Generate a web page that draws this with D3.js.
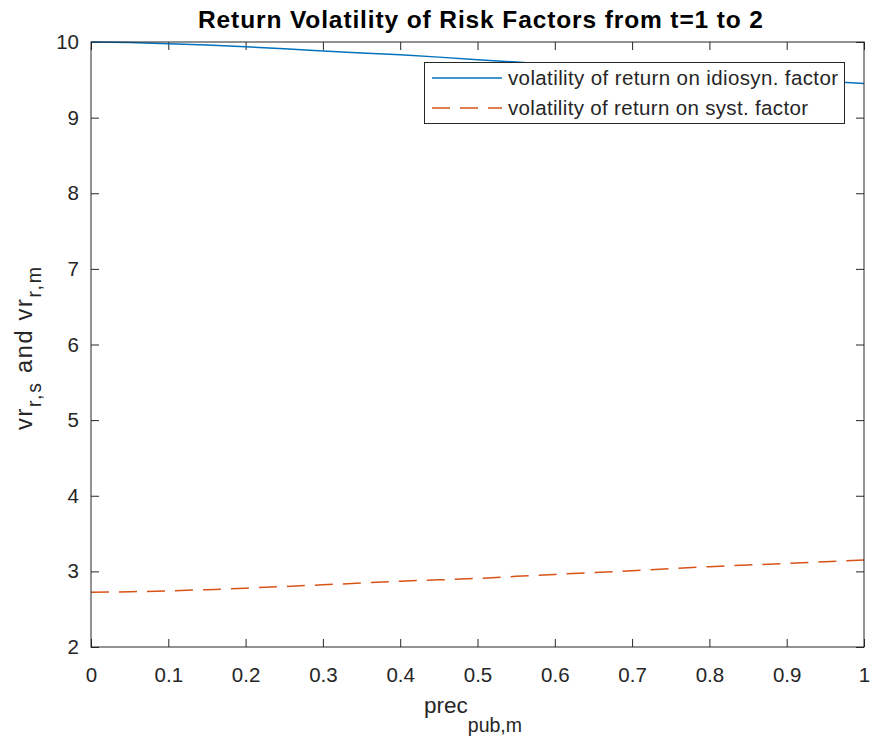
<!DOCTYPE html>
<html><head><meta charset="utf-8">
<script src="https://cdn.jsdelivr.net/npm/d3@7"></script>
<style>body{margin:0;background:#fff}svg{display:block}text{font-family:"Liberation Sans",Arial,Helvetica,sans-serif}</style>
</head><body>
<script>
const xs = [0,0.05,0.1,0.15,0.2,0.25,0.3,0.35,0.4,0.45,0.5,0.55,0.6,0.65,0.7,0.75,0.8,0.85,0.9,0.95,1];
const idioVol = [10,9.994,9.978,9.96,9.938,9.91,9.882,9.855,9.83,9.80,9.765,9.735,9.70,9.67,9.64,9.605,9.575,9.545,9.51,9.48,9.45];
const systVol = [2.725,2.73,2.742,2.758,2.778,2.80,2.822,2.846,2.87,2.888,2.907,2.934,2.96,2.985,3.008,3.035,3.062,3.084,3.105,3.128,3.15];
const xTicks = [0,0.1,0.2,0.3,0.4,0.5,0.6,0.7,0.8,0.9,1];
const yTicks = [2,3,4,5,6,7,8,9,10];
const legendLabels = ["volatility of return on idiosyn. factor","volatility of return on syst. factor"];
const titleText = "Return Volatility of Risk Factors from t=1 to 2";

const W=873,H=738, L=91,R=864,T=42,B=647;
const ink="#262626";
const svg=d3.select("body").append("svg").attr("width",W).attr("height",H);
const x=d3.scaleLinear().domain([0,1]).range([L,R]);
const y=d3.scaleLinear().domain([2,10]).range([B,T]);

function styleAxis(g){g.select(".domain").remove();g.selectAll("line").attr("stroke",ink);g.selectAll("text").attr("fill",ink).style("font-size","20.5px").style("font-family","Liberation Sans, Arial, sans-serif");}
const fmt=d=>d===0?"0":d===1?"1":String(d);
svg.append("g").attr("transform",`translate(0,${B})`).call(d3.axisBottom(x).tickValues(xTicks).tickFormat(fmt).tickSizeInner(-8).tickSizeOuter(0).tickPadding(20)).call(styleAxis);
svg.append("g").attr("transform",`translate(0,${T})`).call(d3.axisTop(x).tickValues(xTicks).tickFormat("").tickSizeInner(-8).tickSizeOuter(0)).call(styleAxis);
svg.append("g").attr("transform",`translate(${L},0)`).call(d3.axisLeft(y).tickValues(yTicks).tickSizeInner(-8).tickSizeOuter(0).tickPadding(12)).call(styleAxis);
svg.append("g").attr("transform",`translate(${R},0)`).call(d3.axisRight(y).tickValues(yTicks).tickFormat("").tickSizeInner(-8).tickSizeOuter(0)).call(styleAxis);

svg.append("clipPath").attr("id","c").append("rect").attr("x",L).attr("y",T-1).attr("width",R-L).attr("height",B-T+2);
const line=d3.line().x((d,i)=>x(xs[i])).y(d=>y(d));
svg.append("path").datum(idioVol).attr("d",line).attr("fill","none").attr("stroke","#0072BD").attr("stroke-width",1.5).attr("clip-path","url(#c)");
svg.append("path").datum(systVol).attr("d",line).attr("fill","none").attr("stroke","#D95319").attr("stroke-width",1.5).attr("stroke-dasharray","18,10").attr("clip-path","url(#c)");

svg.append("rect").attr("x",L).attr("y",T).attr("width",R-L).attr("height",B-T).attr("fill","none").attr("stroke",ink).attr("stroke-width",1);

// title
svg.append("text").attr("x",480.5).attr("y",28).attr("text-anchor","middle").attr("font-weight","bold").style("font-size","24.5px").attr("fill","#000")
  .attr("textLength",565).attr("lengthAdjust","spacing").text(titleText);

// x label
const xl=svg.append("text").attr("x",473).attr("y",713).attr("text-anchor","middle").attr("fill",ink).style("font-size","22.5px");
xl.append("tspan").text("prec");
xl.append("tspan").attr("dy",19).style("font-size","19.5px").text("pub,m");

// y label
const yl=svg.append("text").attr("transform",`translate(32,348.5) rotate(-90)`).attr("text-anchor","middle").attr("fill",ink).style("font-size","23.5px")
  .attr("textLength",163).attr("lengthAdjust","spacing");
yl.append("tspan").text("vr");
yl.append("tspan").attr("dy",9).style("font-size","19.5px").text("r,s");
yl.append("tspan").attr("dy",-9).text(" and vr");
yl.append("tspan").attr("dy",9).style("font-size","19.5px").text("r,m");

// legend
const lg=svg.append("g");
lg.append("rect").attr("x",424.5).attr("y",62.5).attr("width",420).attr("height",61).attr("fill","#fff").attr("stroke",ink).attr("stroke-width",1);
const colors=["#0072BD","#D95319"], dashes=[null,"18,10"], lens=[330,300];
legendLabels.forEach((t,i)=>{
  const yy=78+i*30;
  lg.append("line").attr("x1",432).attr("x2",502).attr("y1",yy).attr("y2",yy).attr("stroke",colors[i]).attr("stroke-width",1.5).attr("stroke-dasharray",dashes[i]);
  lg.append("text").attr("x",508).attr("y",yy).attr("dy","0.35em").attr("fill",ink).style("font-size","20.5px")
    .attr("textLength",lens[i]).attr("lengthAdjust","spacing").text(t);
});
</script>
</body></html>
